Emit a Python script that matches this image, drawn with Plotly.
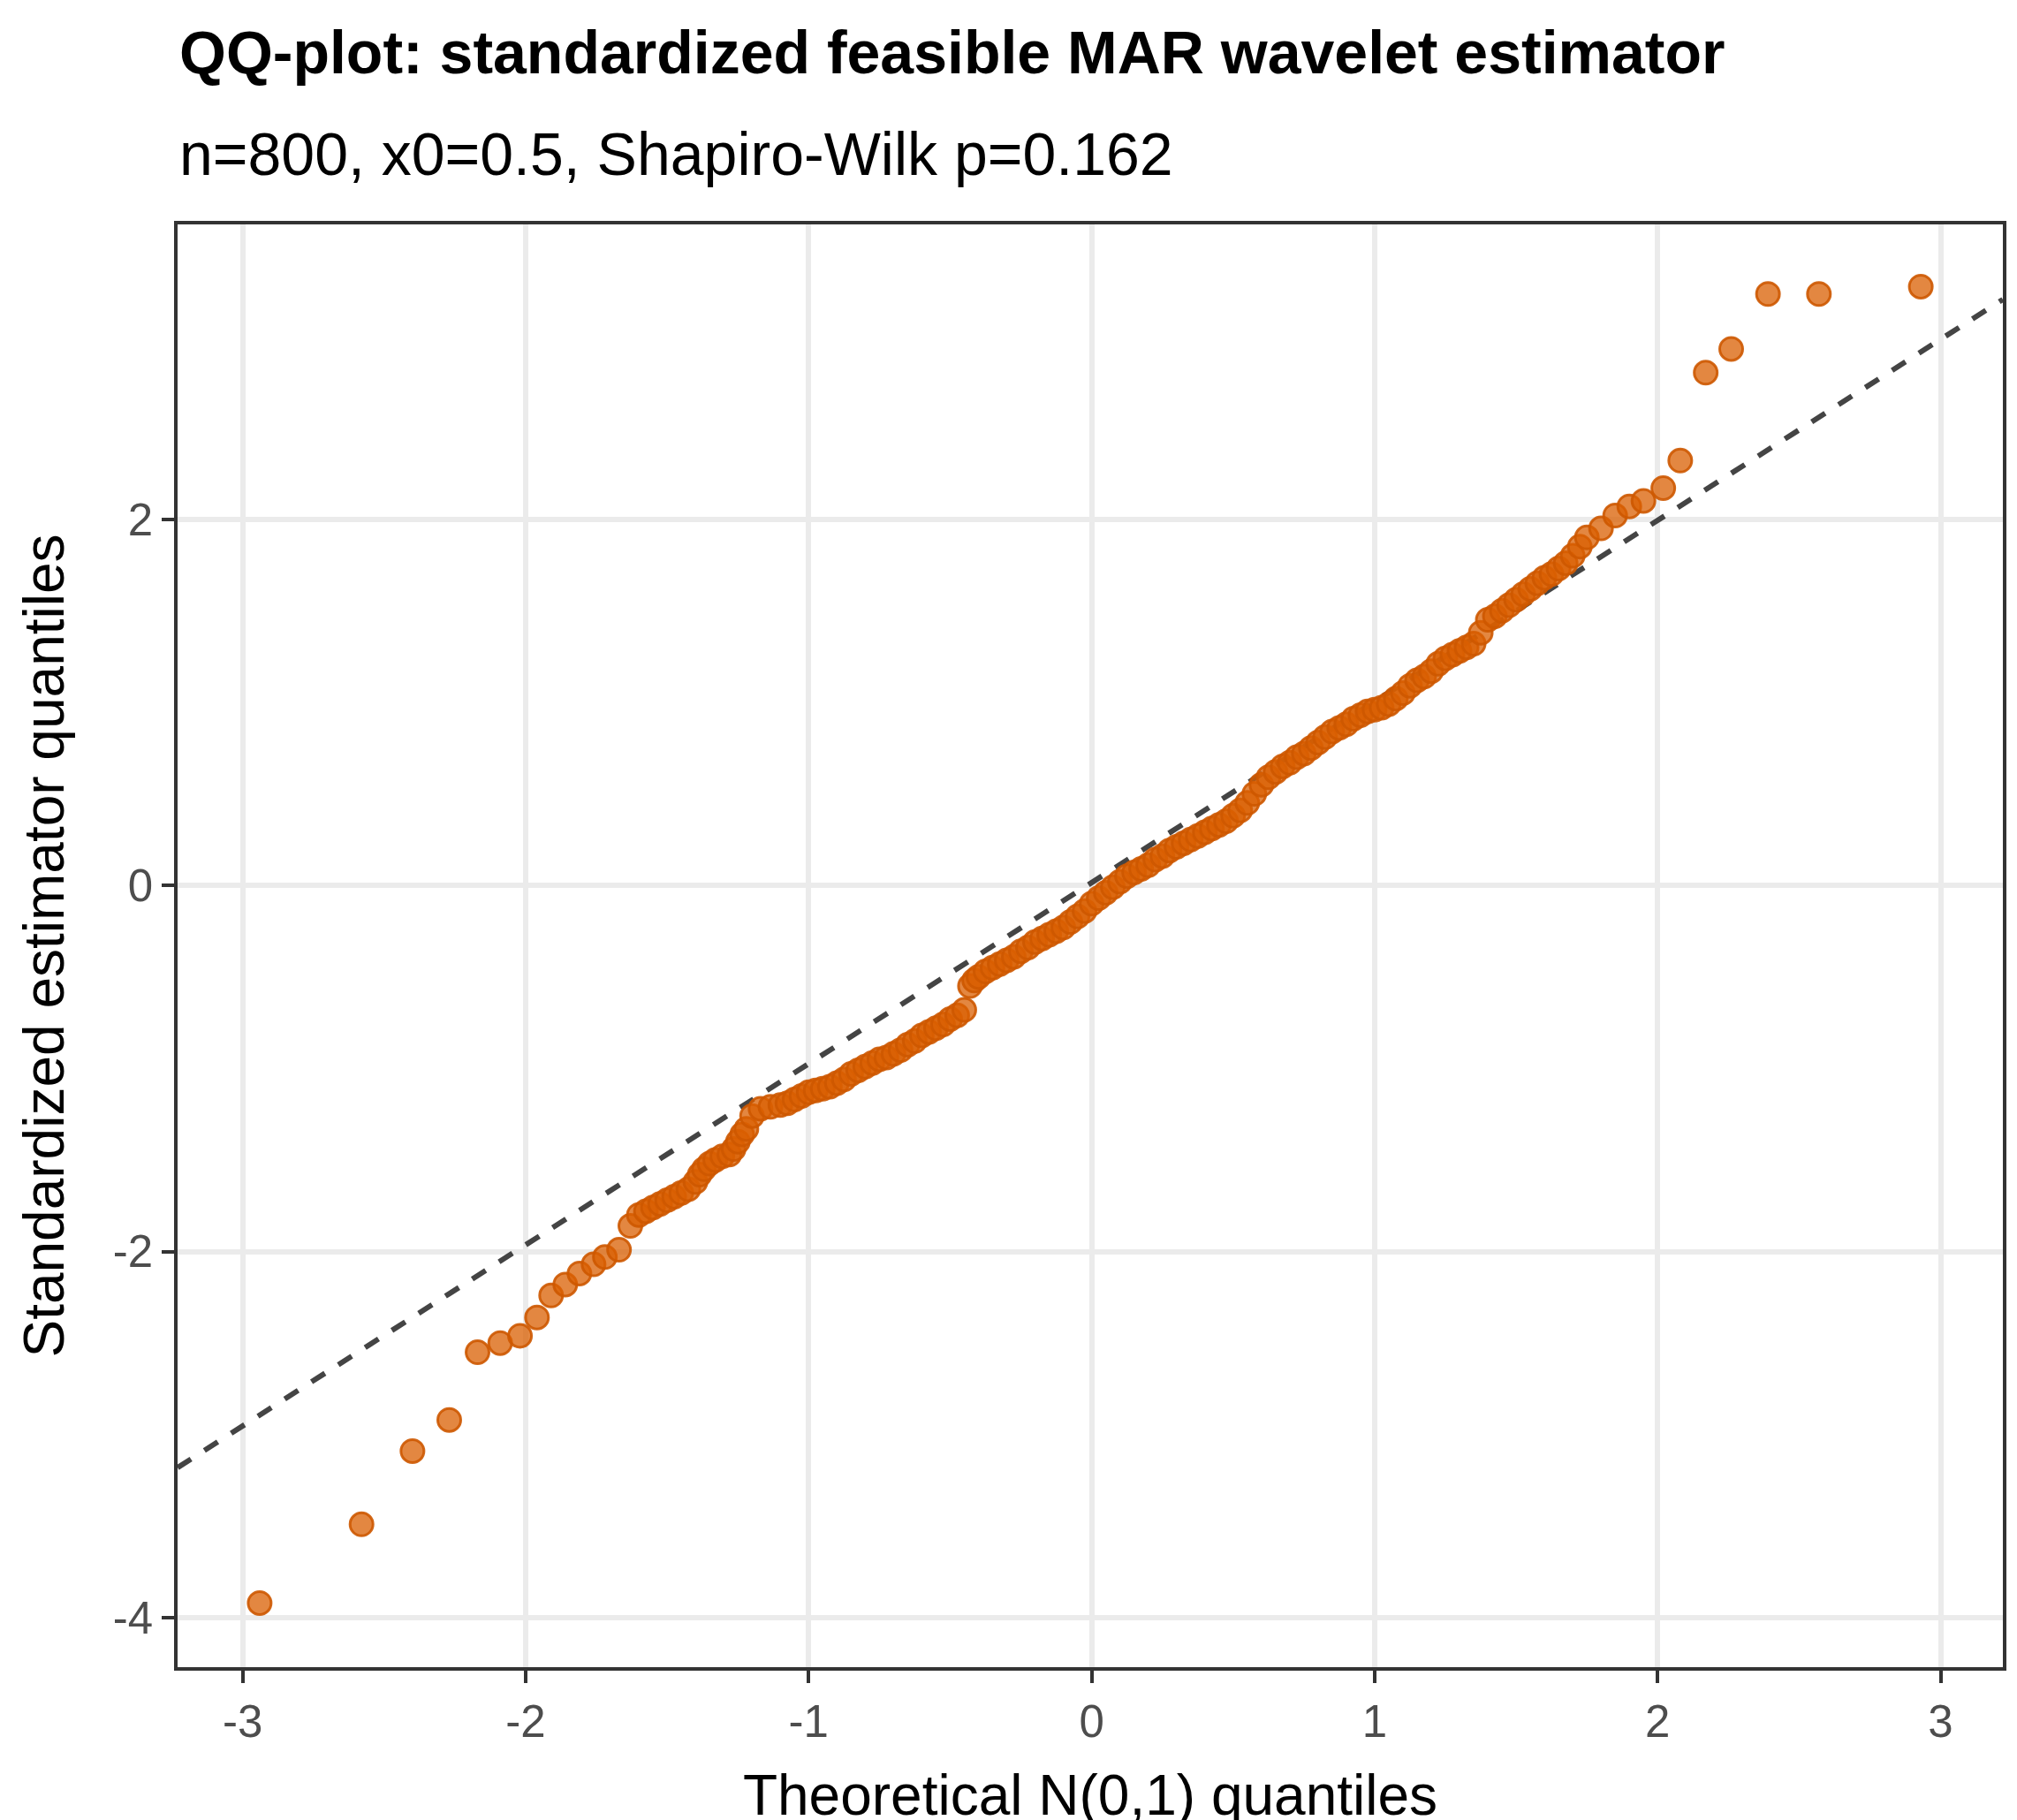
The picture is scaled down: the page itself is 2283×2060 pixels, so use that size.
import plotly.graph_objects as go

theo = [-2.94,-2.58,-2.40,-2.27,-2.17,-2.09,-2.02,-1.96,-1.91,-1.86,-1.81,-1.76,-1.72,-1.67,-1.63,
        -1.6,-1.575,-1.55,-1.525,-1.5,-1.475,-1.45,-1.425,-1.4,-1.385,-1.37,-1.35,-1.33,-1.305,-1.28,-1.265,-1.25,-1.235,
        -1.22,-1.2,-1.17,-1.135,-1.1,-1.075,-1.05,-1.025,-1.0,-0.975,-0.95,-0.925,-0.9,-0.875,
        -0.85,-0.825,-0.8,-0.775,-0.75,-0.725,-0.7,-0.675,-0.65,-0.625,-0.6,-0.575,-0.55,-0.525,-0.5,-0.475,-0.45,
        -0.43,-0.415,-0.4,-0.375,-0.35,-0.325,-0.3,-0.275,-0.25,-0.225,-0.2,-0.175,-0.15,-0.125,-0.1,
        -0.075,-0.05,-0.025,0.0,0.025,0.05,0.075,0.1,0.125,0.15,0.175,0.2,0.225,0.25,0.275,0.3,0.325,0.35,0.375,
        0.4,0.425,0.45,0.475,0.5,0.525,0.55,0.575,0.6,0.625,0.65,0.675,0.7,0.725,0.75,0.775,0.8,0.825,0.85,0.875,
        0.9,0.925,0.95,0.975,1.0,1.025,1.05,1.075,1.1,1.125,1.15,1.175,1.2,1.225,1.25,1.275,1.3,1.325,1.35,1.375,
        1.4,1.425,1.45,1.475,1.5,1.525,1.55,1.575,1.6,1.625,1.65,1.675,1.7,1.725,1.75,1.8,1.85,1.9,1.95,2.02,
        2.08,2.17,2.26,2.39,2.57,2.93]
sample = [-3.92,-3.49,-3.09,-2.92,-2.55,-2.50,-2.46,-2.36,-2.24,-2.18,-2.12,-2.07,-2.03,-1.99,-1.86,
          -1.80,-1.78,-1.76,-1.74,-1.72,-1.70,-1.68,-1.66,-1.62,-1.58,-1.55,-1.52,-1.50,-1.48,-1.47,-1.44,-1.40,-1.36,
          -1.33,-1.26,-1.22,-1.21,-1.20,-1.19,-1.17,-1.15,-1.13,-1.12,-1.11,-1.10,-1.08,-1.06,
          -1.03,-1.01,-0.99,-0.97,-0.95,-0.94,-0.92,-0.90,-0.87,-0.85,-0.82,-0.80,-0.78,-0.76,-0.73,-0.71,-0.68,
          -0.55,-0.52,-0.50,-0.47,-0.45,-0.43,-0.41,-0.39,-0.36,-0.34,-0.31,-0.29,-0.27,-0.25,-0.23,
          -0.20,-0.17,-0.14,-0.10,-0.07,-0.04,-0.01,0.02,0.05,0.07,0.09,0.11,0.14,0.16,0.19,0.21,0.23,0.25,0.27,
          0.29,0.31,0.33,0.35,0.38,0.41,0.45,0.50,0.55,0.59,0.62,0.65,0.67,0.70,0.72,0.75,0.78,0.81,0.84,0.86,
          0.88,0.91,0.93,0.95,0.96,0.97,0.99,1.02,1.05,1.09,1.12,1.14,1.17,1.21,1.24,1.26,1.28,1.30,1.32,1.38,
          1.45,1.47,1.50,1.53,1.56,1.59,1.62,1.65,1.68,1.70,1.73,1.76,1.80,1.85,1.90,1.95,2.02,2.07,2.10,2.17,
          2.32,2.80,2.93,3.23,3.23,3.27]
line_x = [-3.23, 3.22]
line_y = [-3.18, 3.20]
xticks = [-3,-2,-1,0,1,2,3]
yticks = [-4,-2,0,2]

FONT = "Liberation Sans, Arial, sans-serif"
fig = go.Figure()
fig.add_trace(go.Scatter(x=line_x, y=line_y, mode="lines",
                         line=dict(color="#444444", width=6, dash="dash"), showlegend=False))
fig.add_trace(go.Scatter(x=theo, y=sample, mode="markers",
                         marker=dict(size=26, color="rgba(217,95,2,0.75)",
                                     line=dict(color="rgba(205,88,0,0.9)", width=3)),
                         showlegend=False))
axis_common = dict(showgrid=True, gridcolor="#EBEBEB", gridwidth=6, zeroline=False,
                   showline=True, linecolor="#333333", linewidth=3.5, mirror=True,
                   ticks="outside", ticklen=14, tickwidth=3.5, tickcolor="#333333",
                   tickfont=dict(family=FONT, size=51, color="#4D4D4D"))
fig.update_xaxes(range=[-3.23, 3.22], tickvals=xticks, ticktext=[str(v) for v in xticks],
                 title=dict(text="Theoretical N(0,1) quantiles", font=dict(family=FONT, size=64, color="black"), standoff=35),
                 **axis_common)
fig.update_yaxes(range=[-4.27, 3.61], tickvals=yticks, ticktext=[str(v) for v in yticks],
                 title=dict(text="Standardized estimator quantiles", font=dict(family=FONT, size=64, color="black"), standoff=35),
                 **axis_common)
fig.update_layout(width=2283, height=2060, plot_bgcolor="white", paper_bgcolor="white",
                  margin=dict(l=193, r=24, t=246, b=181),
                  annotations=[
                      dict(text="<b>QQ-plot: standardized feasible MAR wavelet estimator</b>", xref="paper", yref="paper",
                           x=0, y=1, xanchor="left", yanchor="bottom", yshift=155, showarrow=False,
                           font=dict(family=FONT, size=68, color="black")),
                      dict(text="n=800, x0=0.5, Shapiro-Wilk p=0.162", xref="paper", yref="paper",
                           x=0, y=1, xanchor="left", yanchor="bottom", yshift=40, showarrow=False,
                           font=dict(family=FONT, size=68, color="black")),
                  ])
fig.write_html("out.html")
